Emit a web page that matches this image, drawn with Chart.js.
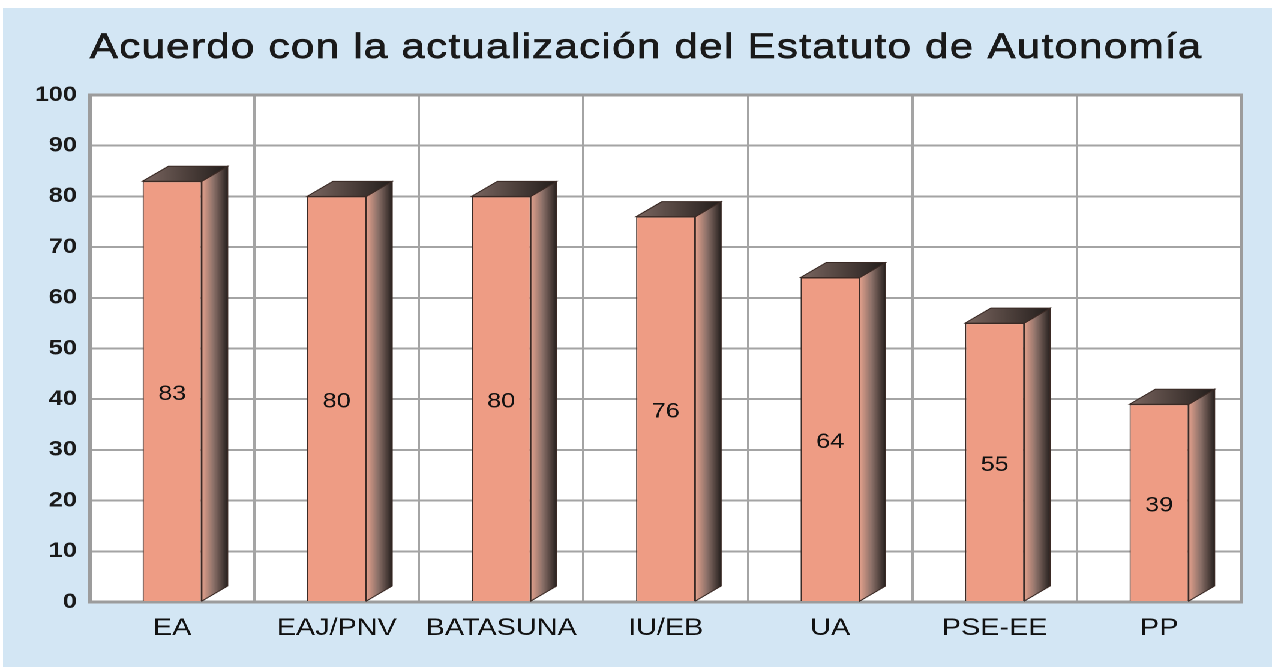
<!DOCTYPE html>
<html>
<head>
<meta charset="utf-8">
<script src="https://cdn.jsdelivr.net/npm/chart.js@4.4.1/dist/chart.umd.min.js"></script>
<style>
  html, body { margin: 0; padding: 0; background: #fff; }
  /* the original picture is stretched sideways, so the whole panel is too */
  #wrap { position: absolute; left: 3px; top: 8px; width: 1058px; height: 659px; background: #d3e6f4;
          transform: scaleX(1.2); transform-origin: 0 0; }
</style>
</head>
<body>
<div id="wrap"><canvas id="acuerdoChart" width="1058" height="659"></canvas></div>
<script>
// data
const categories = ['EA', 'EAJ/PNV', 'BATASUNA', 'IU/EB', 'UA', 'PSE-EE', 'PP'];
const acuerdo = [83, 80, 80, 76, 64, 55, 39];
const yTicks = [0, 10, 20, 30, 40, 50, 60, 70, 80, 90, 100];
const titleText = 'Acuerdo con la actualización del Estatuto de Autonomía';

const FONT = "'Liberation Sans', Arial, sans-serif";
const DX = 21.5, DY = 15;   // depth of the fake 3D bars

// === 3D look: white plot area, frame, title, side and top faces, value labels ===
const bar3d = {
  id: 'bar3d',
  beforeDraw(chart) {
    const { ctx, chartArea: a } = chart;
    ctx.save();
    ctx.fillStyle = '#ffffff';
    ctx.fillRect(a.left, a.top, a.right - a.left, a.bottom - a.top);
    // title, a bit heavier than the plain face
    ctx.font = '35px ' + FONT;
    if ('letterSpacing' in ctx) ctx.letterSpacing = '1.1px';
    ctx.textAlign = 'center';
    ctx.textBaseline = 'alphabetic';
    ctx.fillStyle = '#1a1a1a';
    ctx.strokeStyle = '#1a1a1a';
    ctx.lineWidth = 0.7;
    ctx.fillText(titleText, 536, 50);
    ctx.strokeText(titleText, 536, 50);
    ctx.restore();
  },
  beforeDatasetsDraw(chart) {
    const { ctx, chartArea: a } = chart;
    ctx.save();
    ctx.strokeStyle = '#9c9c9c';
    ctx.lineWidth = 3;
    ctx.strokeRect(a.left, a.top, a.right - a.left, a.bottom - a.top);
    ctx.restore();
  },
  afterDatasetsDraw(chart) {
    const ctx = chart.ctx;
    const meta = chart.getDatasetMeta(0);
    ctx.save();
    ctx.lineWidth = 1;
    ctx.strokeStyle = '#3a2a25';
    meta.data.forEach((bar) => {
      const { x, y, base, width } = bar.getProps(['x', 'y', 'base', 'width'], true);
      const l = x - width / 2, r = x + width / 2;
      // side face
      let g = ctx.createLinearGradient(r, 0, r + DX, 0);
      g.addColorStop(0, '#e2a08c');
      g.addColorStop(0.45, '#8c7169');
      g.addColorStop(1, '#27211f');
      ctx.fillStyle = g;
      ctx.beginPath();
      ctx.moveTo(r, y); ctx.lineTo(r + DX, y - DY); ctx.lineTo(r + DX, base - DY); ctx.lineTo(r, base);
      ctx.closePath(); ctx.fill(); ctx.stroke();
      // top face
      g = ctx.createLinearGradient(l, 0, r + DX, 0);
      g.addColorStop(0, '#7a6660');
      g.addColorStop(0.6, '#463a36');
      g.addColorStop(1, '#221d1b');
      ctx.fillStyle = g;
      ctx.beginPath();
      ctx.moveTo(l, y); ctx.lineTo(l + DX, y - DY); ctx.lineTo(r + DX, y - DY); ctx.lineTo(r, y);
      ctx.closePath(); ctx.fill(); ctx.stroke();
    });
    // value labels in the middle of each bar
    ctx.fillStyle = '#111';
    ctx.font = '21px ' + FONT;
    ctx.textAlign = 'center';
    ctx.textBaseline = 'middle';
    meta.data.forEach((bar, i) => {
      const { x, y, base } = bar.getProps(['x', 'y', 'base'], true);
      ctx.fillText(String(acuerdo[i]), x, (y + base) / 2 + 3);
    });
    ctx.restore();
  }
};

new Chart(document.getElementById('acuerdoChart'), {
  type: 'bar',
  data: {
    labels: categories,
    datasets: [{
      label: 'Acuerdo',
      data: acuerdo,
      backgroundColor: '#ee9c84',
      borderColor: '#3a2a25',
      borderWidth: 1,
      categoryPercentage: 1,
      barPercentage: 0.36
    }]
  },
  options: {
    responsive: false,
    animation: false,
    devicePixelRatio: 2,
    layout: { padding: { left: 0, right: 26, top: 87, bottom: 0 } },
    plugins: {
      legend: { display: false },
      tooltip: { enabled: false },
      title: { display: false }
    },
    scales: {
      x: {
        grid: { color: '#a4a4a4', lineWidth: 2, offset: true, drawTicks: false },
        border: { display: false },
        ticks: { font: { family: FONT, size: 24 }, color: '#111', padding: 12 },
        afterFit(s) { s.height = 65; }
      },
      y: {
        min: 0, max: 100,
        afterBuildTicks(s) { s.ticks = yTicks.map(v => ({ value: v })); },
        grid: { color: '#a4a4a4', lineWidth: 2, drawTicks: false },
        border: { display: false },
        ticks: { font: { family: FONT, size: 21, weight: 'bold' }, color: '#1a1a1a', padding: 11 },
        afterFit(s) { s.width = 72.5; }
      }
    }
  },
  plugins: [bar3d]
});
</script>
</body>
</html>
